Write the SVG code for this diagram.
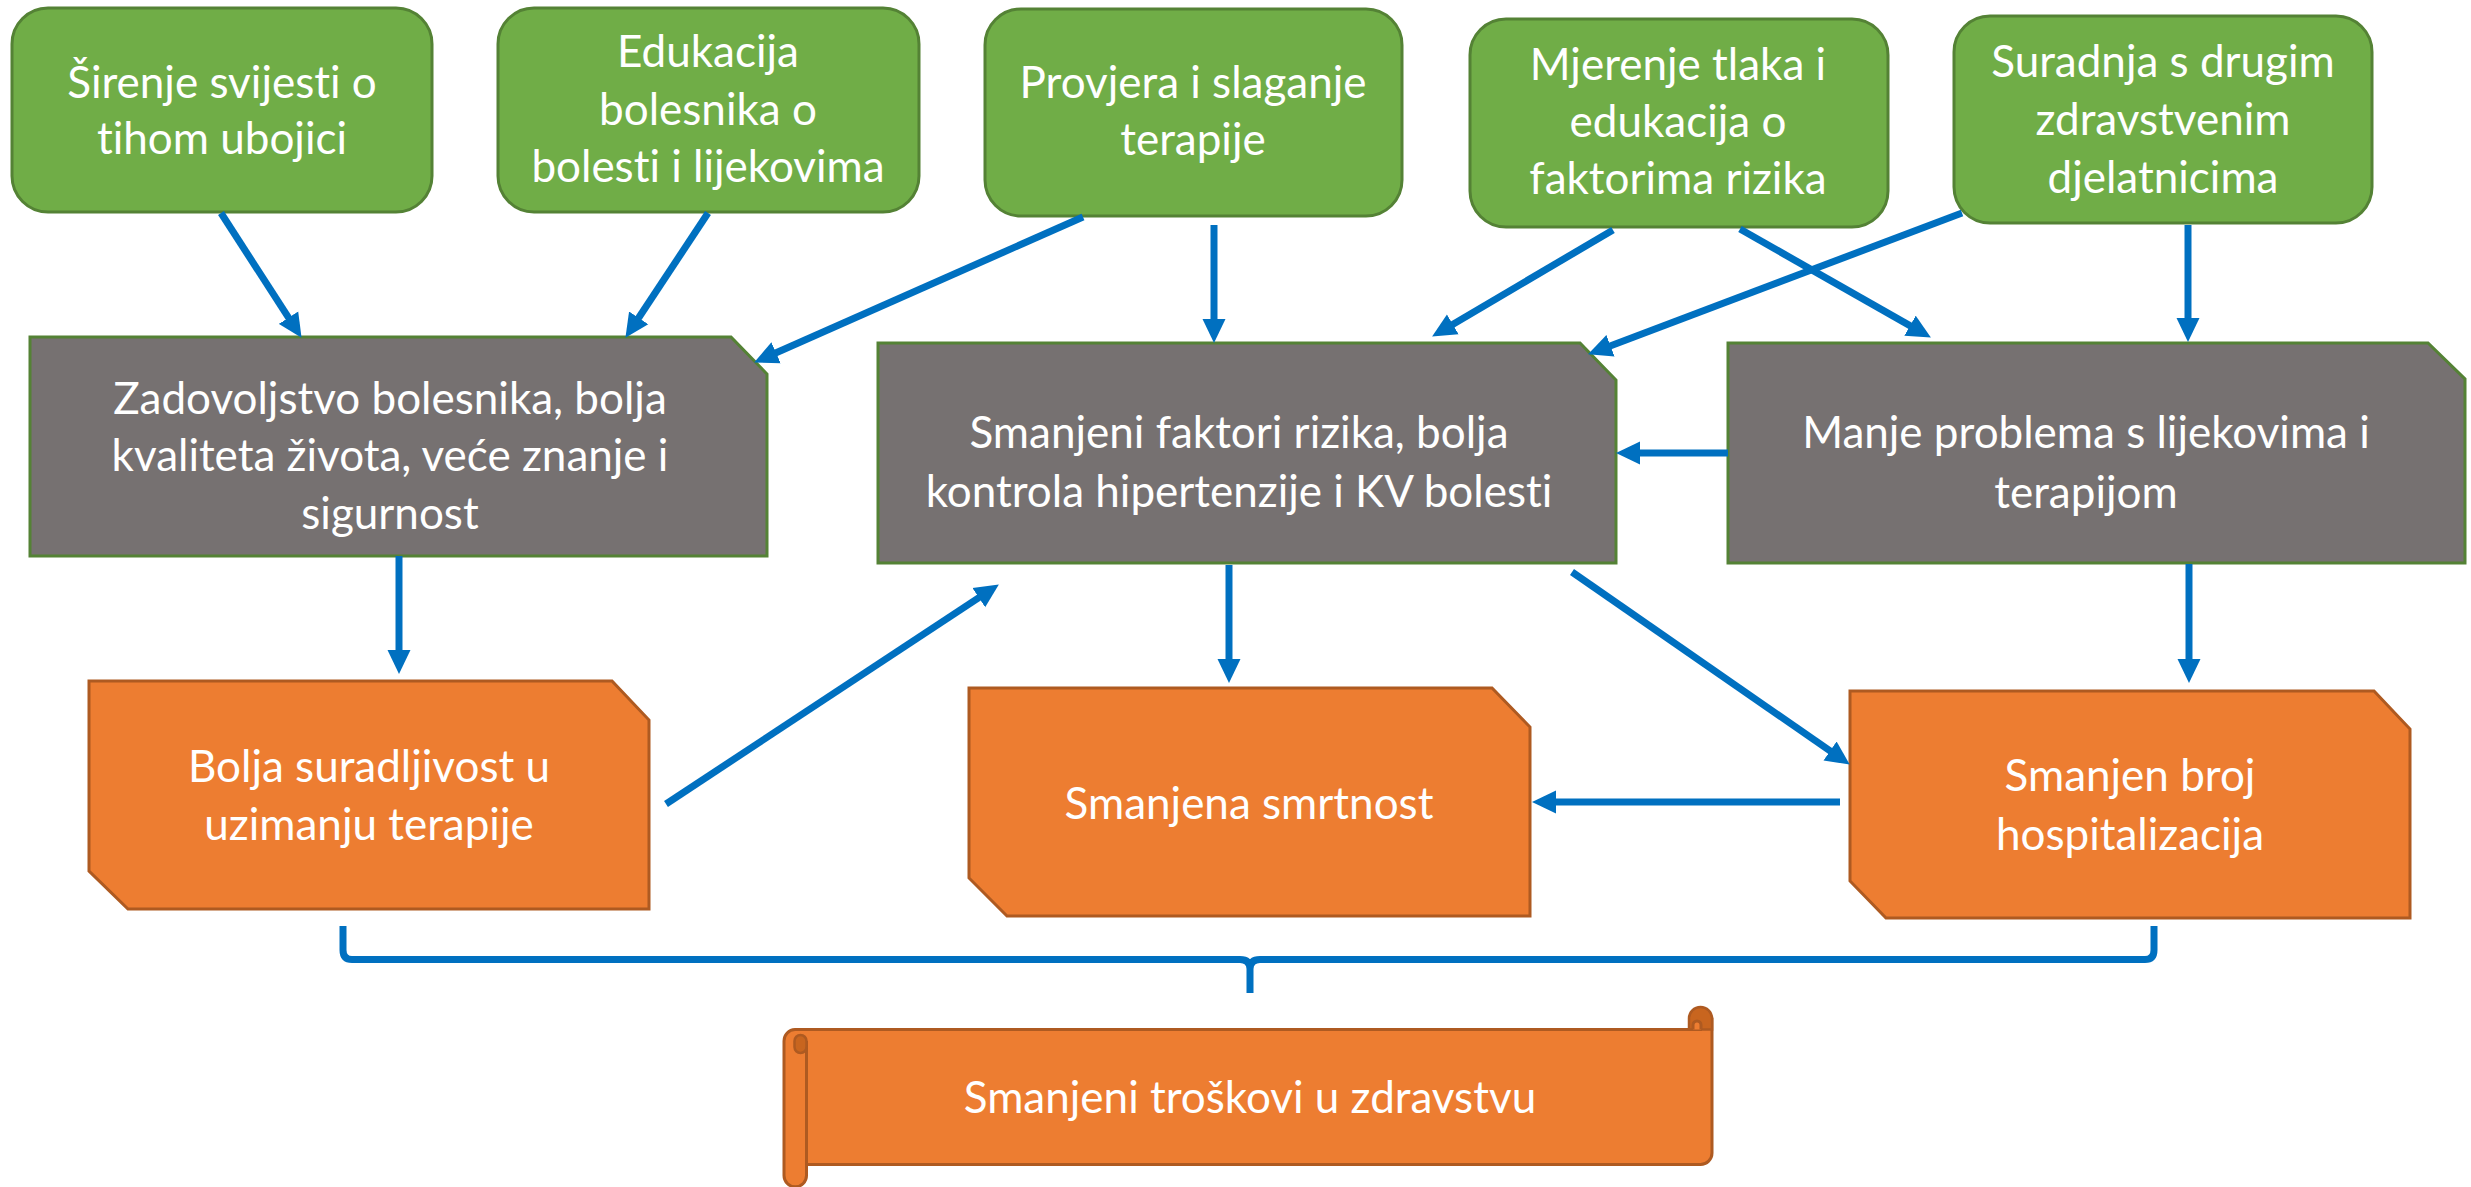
<svg xmlns="http://www.w3.org/2000/svg" width="2471" height="1187" viewBox="0 0 2471 1187">
<style>
.green{fill:#70AD47;stroke:#548235;stroke-width:3}
.grey{fill:#767171;stroke:#548235;stroke-width:3}
.orange{fill:#ED7D31;stroke:#AE5A21;stroke-width:3}
.curl{fill:#C8651F;stroke:#AE5A21;stroke-width:2.5}
text{font-family:Lato,"Open Sans","Liberation Sans",sans-serif;font-size:44px;fill:#FFFFFF;text-anchor:middle;font-variant-ligatures:none}
.conn line,.conn path{stroke:#0070C0;stroke-width:7;fill:none}
</style>
<defs>
<marker id="ah" markerUnits="userSpaceOnUse" markerWidth="24" markerHeight="24" refX="11" refY="11.5" orient="auto" viewBox="0 0 24 23">
<path d="M0,0 L24,11.5 L0,23 Z" fill="#0070C0"/>
</marker>
</defs>
<rect width="2471" height="1187" fill="#FFFFFF"/>

<g id="n1"><rect class="green" x="12" y="8" width="420" height="204" rx="36"/>
<text x="222" y="98">Širenje svijesti o</text><text x="222" y="154">tihom ubojici</text></g>
<g id="n2"><rect class="green" x="498" y="8" width="421" height="204" rx="36"/>
<text x="708" y="67">Edukacija</text><text x="708" y="125">bolesnika o</text><text x="708" y="182">bolesti i lijekovima</text></g>
<g id="n3"><rect class="green" x="985" y="9" width="417" height="207" rx="36"/>
<text x="1193" y="98">Provjera i slaganje</text><text x="1193" y="155">terapije</text></g>
<g id="n4"><rect class="green" x="1470" y="19" width="418" height="208" rx="36"/>
<text x="1678" y="80">Mjerenje tlaka i</text><text x="1678" y="137">edukacija o</text><text x="1678" y="194">faktorima rizika</text></g>
<g id="n5"><rect class="green" x="1954" y="16" width="418" height="207" rx="36"/>
<text x="2163" y="77">Suradnja s drugim</text><text x="2163" y="135">zdravstvenim</text><text x="2163" y="193">djelatnicima</text></g>

<g id="nA"><path class="grey" d="M30,337 H731 L767,374 V556 H30 Z"/>
<text x="390" y="414">Zadovoljstvo bolesnika, bolja</text><text x="390" y="471">kvaliteta života, veće znanje i</text><text x="390" y="529">sigurnost</text></g>
<g id="nB"><path class="grey" d="M878,343 H1580 L1616,380 V563 H878 Z"/>
<text x="1239" y="448">Smanjeni faktori rizika, bolja</text><text x="1239" y="507">kontrola hipertenzije i KV bolesti</text></g>
<g id="nC"><path class="grey" d="M1728,343 H2428 L2465,379 V563 H1728 Z"/>
<text x="2086" y="448">Manje problema s lijekovima i</text><text x="2086" y="508">terapijom</text></g>

<g id="nD"><path class="orange" d="M89,681 H612 L649,720 V909 H128 L89,871 Z"/>
<text x="369" y="782">Bolja suradljivost u</text><text x="369" y="840">uzimanju terapije</text></g>
<g id="nE"><path class="orange" d="M969,688 H1492 L1530,727 V916 H1007 L969,878 Z"/>
<text x="1249" y="819">Smanjena smrtnost</text></g>
<g id="nF"><path class="orange" d="M1850,691 H2374 L2410,729 V918 H1886 L1850,881 Z"/>
<text x="2130" y="791">Smanjen broj</text><text x="2130" y="850">hospitalizacija</text></g>

<g id="nS">
<path class="orange" d="M795,1029.5 H1700.5 V1018.5 A11.5,11.5 0 0 1 1712,1018.5 V1153 A11.5,11.5 0 0 1 1700.5,1164.5 H806.5 V1175.5 A11.25,11.25 0 0 1 784,1175.5 V1041 A11.5,11.5 0 0 1 795,1029.5 Z"/>
<path class="orange" d="M806.5,1041 V1164.5" fill="none"/>
<path class="curl" d="M806.5,1047 V1041 A6,6 0 0 0 794.5,1041 V1047 A6,6 0 0 0 806.5,1047 Z"/>
<path class="curl" d="M1689,1029.5 V1018.5 A11.5,11.5 0 0 1 1712,1018.5 V1029.5 Z"/>
<path class="orange" d="M1693,1029.5 V1025 A4,4 0 0 1 1701,1025 V1029.5" stroke-width="2"/>
<text x="1250" y="1113">Smanjeni troškovi u zdravstvu</text></g>

<g id="connectors" class="conn">
<line x1="221" y1="213" x2="294.5" y2="326.9" marker-end="url(#ah)"/>
<line x1="708" y1="213" x2="632.6" y2="327" marker-end="url(#ah)"/>
<line x1="1083" y1="217" x2="766" y2="357.2" marker-end="url(#ah)"/>
<line x1="1214" y1="225" x2="1214" y2="330" marker-end="url(#ah)"/>
<line x1="1613" y1="230" x2="1443.3" y2="329.9" marker-end="url(#ah)"/>
<line x1="1740" y1="229" x2="1919.6" y2="331.1" marker-end="url(#ah)"/>
<line x1="1962" y1="213" x2="1600.2" y2="349.7" marker-end="url(#ah)"/>
<line x1="2188" y1="225" x2="2188" y2="329" marker-end="url(#ah)"/>
<line x1="1728" y1="453" x2="1629" y2="453" marker-end="url(#ah)"/>
<line x1="399" y1="556" x2="399" y2="661" marker-end="url(#ah)"/>
<line x1="666" y1="804" x2="988" y2="591.6" marker-end="url(#ah)"/>
<line x1="1229" y1="565" x2="1229" y2="670" marker-end="url(#ah)"/>
<line x1="1572" y1="572" x2="1839.1" y2="757.2" marker-end="url(#ah)"/>
<line x1="2189" y1="564" x2="2189" y2="670" marker-end="url(#ah)"/>
<line x1="1840" y1="802" x2="1545" y2="802" marker-end="url(#ah)"/>
<path d="M343,926 V950 Q343,959.5 352,959.5 H1240 Q1250,959.5 1250,969 V993 M1250,969 Q1250,959.5 1260,959.5 H2145 Q2154,959.5 2154,950 V926"/>
</g>
</svg>
